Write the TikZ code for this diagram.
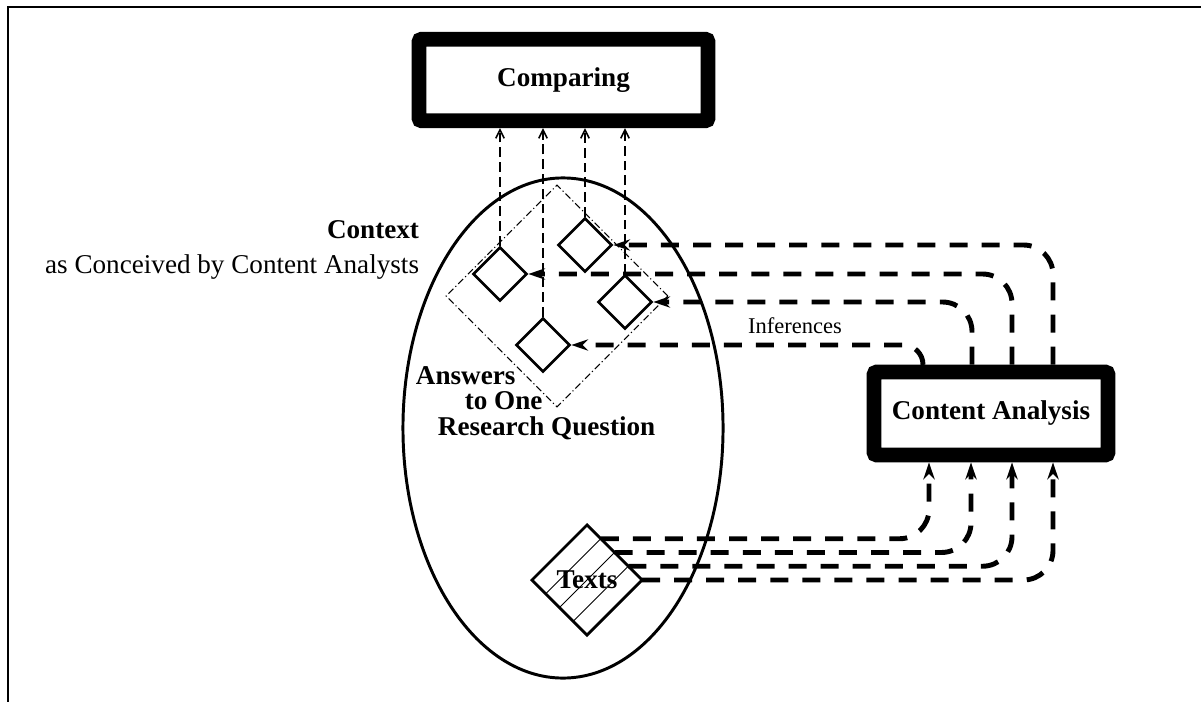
\documentclass[tikz,border=0pt]{standalone}
\usepackage{fontspec}
\setmainfont{Liberation Serif}
\usetikzlibrary{positioning, arrows.meta, shapes.geometric, calc}

\tikzset{
  thickbox/.style={draw, line width=10.5pt, rounded corners=2pt, inner sep=0pt, font=\fontsize{19.3}{22}\selectfont\bfseries},
  smalldia/.style={diamond, draw, line width=1.8pt, minimum size=1.35cm, inner sep=0pt},
  infer/.style={line width=3.5pt, dash pattern=on 12.8pt off 10pt, rounded corners=21pt, -{Stealth[length=12pt,width=8pt]}},
  upline/.style={line width=1.1pt, dash pattern=on 7pt off 3.5pt, -{Straight Barb[length=6pt,width=6pt]}},
}

\begin{document}
\begin{tikzpicture}[x=0.025cm, y=-0.025cm]
    \useasboundingbox (0,0) rectangle (1201,702);
    % frame
    \draw[line width=1.4pt] (8,702) -- (8,7) -- (1201,7);
    % the two process boxes
    \node[thickbox, minimum width=7.225cm, minimum height=2.04cm] (cmp) at (563.5,80) {Comparing};
    \node[thickbox, minimum width=5.85cm, minimum height=2.075cm] (ca) at (991,413.5) {Content Analysis};
    % context ellipse and answers region
    \node[ellipse, draw, line width=2.1pt, minimum width=8cm, minimum height=12.5cm] (ctx) at (563,428) {};
    \node[diamond, draw, line width=0.7pt, dash pattern=on 5pt off 2pt on 0.8pt off 2pt, minimum size=5.55cm, inner sep=0pt] (ans) at (557,296) {};
    \node[smalldia] (d1) at (500,274) {};
    \node[smalldia] (d2) at (585,245) {};
    \node[smalldia] (d3) at (625,302) {};
    \node[smalldia] (d4) at (543,345) {};
    % texts
    \node[diamond, draw, line width=2pt, minimum size=2.75cm, inner sep=0pt, outer sep=0pt] (texts) at (587,580) {};
    \foreach \k in {0.25,0.5,0.75}
        \draw[line width=0.6pt] ($(texts.west)!\k!(texts.south)$) -- ($(texts.north)!\k!(texts.east)$);
    \node[font=\fontsize{19.3}{22}\selectfont\bfseries] (textslbl) at (texts) {Texts};
    % labels
    \node[anchor=east, align=right, font=\fontsize{19.3}{25}\selectfont] (ctxlbl) at (424,250) {\textbf{Context}\\as Conceived by Content Analysts};
    \node[anchor=west, align=left, font=\fontsize{19.3}{18.1}\selectfont\bfseries] (anslbl) at (411,403)
        {Answers\\\hspace*{34.7pt}to One\\\hspace*{15.6pt}Research Question};
    \node[font=\fontsize{16}{18}\selectfont] (inf) at (795,326) {Inferences};
    % answers up to comparing
    \draw[upline] (d1.north) -- (d1.north |- cmp.south);
    \draw[upline] (d4.north) -- (d4.north |- cmp.south);
    \draw[upline] (d2.north) -- (d2.north |- cmp.south);
    \draw[upline] (d3.north) -- (d3.north |- cmp.south);
    % inferences from content analysis
    \draw[infer] ($(ca.north)+(62,0)$) |- (d2.east);
    \draw[infer] ($(ca.north)+(21,0)$) |- (d1.east);
    \draw[infer] ($(ca.north)+(-19,0)$) |- (d3.east);
    \draw[infer, rounded corners=14pt] ($(ca.north)+(-68,0)$) |- (d4.east);
    % texts into content analysis
    \draw[infer] ($(texts.north)!0.25!(texts.east)$) -| ($(ca.south)+(-62,0)$);
    \draw[infer] ($(texts.north)!0.5!(texts.east)$) -| ($(ca.south)+(-20,0)$);
    \draw[infer] ($(texts.north)!0.75!(texts.east)$) -| ($(ca.south)+(21,0)$);
    \draw[infer] (texts.east) -| ($(ca.south)+(62,0)$);
\end{tikzpicture}
\end{document}
